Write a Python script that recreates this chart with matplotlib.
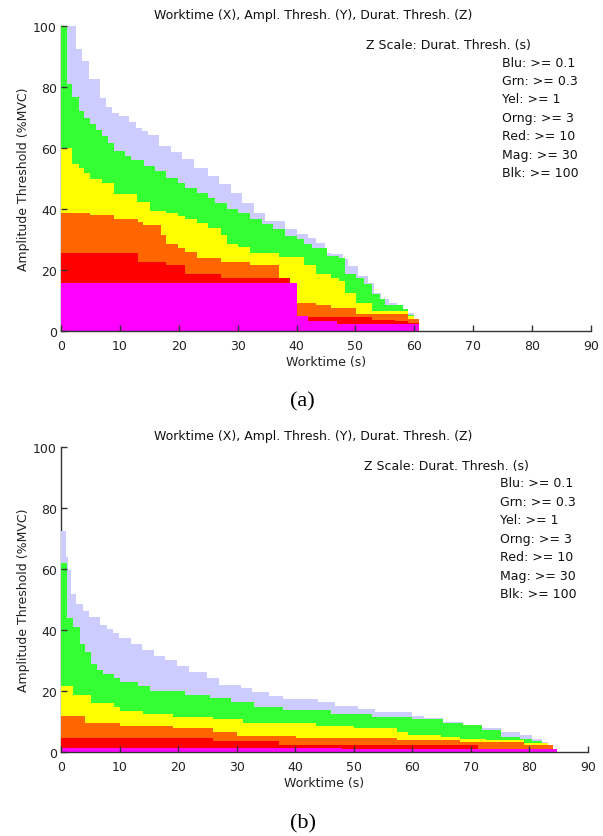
import matplotlib
matplotlib.use("Agg")
import matplotlib.pyplot as plt

# duration-threshold layer colours (>=0.1, 0.3, 1, 3, 10, 30 s)
layer_colors = ["#ccccff", "#33ff33", "#ffff00", "#ff6600", "#ff0000", "#ff00ff"]

legend_lines = ["Blu: >= 0.1", "Grn: >= 0.3", "Yel: >= 1", "Orng: >= 3",
                "Red: >= 10", "Mag: >= 30", "Blk: >= 100"]
title_text = "Worktime (X), Ampl. Thresh. (Y), Durat. Thresh. (Z)"
xticks = [0, 10, 20, 30, 40, 50, 60, 70, 80, 90]
yticks = [0, 20, 40, 60, 80, 100]

# ---- panel (a): step edges (worktime, s) and amplitude thresholds (%MVC)
a_blu_x = [0, 2.6, 3.6, 4.7, 6.7, 7.7, 8.7, 9.8, 11.5, 12.8, 13.8, 14.7, 16.7, 18.7,
           20.6, 22.6, 24.9, 26.9, 28.8, 30.8, 32.8, 34.7, 38.0, 40.0, 41.9, 43.3,
           44.9, 45.9, 47.8, 48.8, 50.5, 52.1, 53.1, 54.4, 55.7, 57.0, 58.0, 59.0,
           60.0, 60.8]
a_blu_y = [100, 92.6, 88.5, 82.5, 76.5, 73.6, 71.6, 70.5, 68.5, 66.7, 65.6, 64.2,
           60.7, 58.7, 56.3, 53.6, 50.8, 48.1, 45.4, 42.1, 38.8, 36.1, 33.3, 31.7,
           30.6, 29.0, 25.7, 25.1, 23.5, 21.3, 18.0, 15.8, 12.6, 10.4, 9.1, 7.7,
           7.1, 6.0, 3.8]
a_grn_x = [0, 1.0, 1.8, 3.0, 3.9, 4.9, 5.9, 6.9, 7.9, 9.0, 10.8, 11.9, 14.1, 16.0,
           17.9, 19.8, 21.1, 23.1, 24.9, 26.2, 28.2, 30.1, 32.1, 34.1, 36.0, 38.0,
           40.0, 41.3, 42.6, 45.2, 47.2, 48.2, 50.1, 51.4, 52.8, 54.1, 55.0, 58.0,
           59.0, 60.0, 60.8]
a_grn_y = [100, 80.9, 76.7, 72.1, 69.9, 67.8, 65.9, 63.9, 61.7, 59.0, 57.4, 56.1,
           54.1, 52.5, 50.3, 48.6, 47.0, 45.4, 43.7, 42.1, 39.9, 38.8, 36.6, 35.0,
           33.3, 31.1, 30.1, 28.4, 27.3, 24.6, 24.0, 18.6, 17.5, 15.3, 12.0, 10.4,
           8.7, 7.1, 5.1, 3.8]
a_yel_x = [0, 1.8, 3.0, 3.9, 4.9, 6.9, 9.0, 12.9, 15.1, 17.9, 19.8, 21.1, 23.1, 24.9,
           27.2, 28.2, 30.1, 32.1, 37.0, 41.3, 43.3, 45.9, 47.2, 48.2, 50.1, 52.8,
           59.0, 60.0, 60.8]
a_yel_y = [59.9, 54.9, 53.6, 51.9, 49.7, 48.4, 44.8, 42.3, 39.3, 38.8, 37.7, 36.6,
           35.5, 33.9, 31.5, 28.6, 27.6, 25.7, 24.4, 21.6, 18.6, 17.5, 16.4, 12.6,
           9.3, 6.6, 4.9, 3.8]
a_org_x = [0, 4.9, 9.0, 13.0, 14.0, 17.0, 17.9, 19.8, 21.1, 23.1, 27.2, 32.1, 37.0,
           38.8, 40.0, 43.3, 45.9, 50.1, 59.0, 60.8]
a_org_y = [38.6, 37.9, 36.6, 35.7, 34.8, 31.5, 28.6, 27.3, 26.0, 23.8, 22.6, 21.5,
           17.5, 15.6, 9.3, 8.5, 7.7, 5.5, 3.8]
a_red_x = [0, 13.0, 17.9, 21.1, 27.2, 38.8, 40.0, 41.9, 52.8, 56.8, 59.0, 60.8]
a_red_y = [25.7, 22.7, 21.6, 18.6, 17.5, 15.6, 5.0, 4.7, 3.6, 3.3, 2.7]
a_mag_x = [0, 40.0, 41.9, 46.8, 60.8]
a_mag_y = [15.6, 5.0, 3.3, 2.2]

# ---- panel (b)
b_blu_x = [0, 0.8, 1.2, 1.7, 2.6, 3.8, 4.8, 6.7, 7.8, 8.9, 9.9, 11.9, 13.8, 15.8,
           17.8, 19.8, 21.8, 25.0, 27.0, 30.7, 32.6, 35.6, 37.9, 43.8, 46.8, 50.8,
           53.7, 60.0, 62.0, 65.3, 68.6, 71.9, 75.1, 78.4, 80.4, 82.1, 83.1]
b_blu_y = [72.4, 63.9, 59.5, 51.8, 48.5, 46.3, 44.3, 41.7, 40.2, 39.1, 37.3, 35.3,
           33.3, 31.4, 30.3, 28.1, 26.2, 24.3, 22.1, 21.0, 19.8, 18.2, 17.4, 16.3,
           15.2, 14.1, 13.0, 11.9, 11.0, 9.9, 8.8, 7.7, 6.6, 5.5, 4.2, 3.3]
b_grn_x = [0, 1.0, 2.0, 3.2, 4.1, 5.1, 6.1, 7.1, 9.0, 10.0, 13.1, 15.2, 21.1, 25.4,
           29.0, 33.0, 37.9, 46.1, 53.1, 60.0, 65.3, 68.6, 71.9, 75.1, 78.4, 80.4,
           82.1]
b_grn_y = [62.0, 43.9, 41.0, 35.5, 32.7, 28.7, 27.0, 25.4, 24.3, 22.8, 21.7, 20.1,
           18.7, 17.6, 16.5, 14.9, 13.8, 12.3, 11.6, 10.7, 9.4, 8.8, 7.2, 5.0, 4.2,
           3.5]
b_yel_x = [0, 2.0, 5.1, 9.0, 10.0, 14.0, 19.1, 26.0, 31.1, 43.5, 50.1, 57.4, 59.3,
           64.9, 68.2, 72.5, 79.1, 83.1]
b_yel_y = [21.7, 18.7, 16.0, 14.9, 13.5, 12.3, 11.6, 10.7, 9.4, 8.6, 7.7, 6.6, 5.5,
           5.0, 4.4, 3.9, 2.8]
b_org_x = [0, 4.1, 10.0, 19.1, 26.0, 30.0, 40.2, 57.4, 68.2, 79.1, 84.0]
b_org_y = [11.8, 9.6, 8.6, 7.7, 6.4, 5.2, 4.6, 3.9, 3.3, 2.4]
b_red_x = [0, 26.0, 37.2, 71.2]
b_red_y = [4.6, 3.5, 2.4]
b_mag_x = [0, 47.9, 84.7]
b_mag_y = [1.4, 0.9]

panel_a = [(a_blu_x, a_blu_y), (a_grn_x, a_grn_y), (a_yel_x, a_yel_y),
           (a_org_x, a_org_y), (a_red_x, a_red_y), (a_mag_x, a_mag_y)]
panel_b = [(b_blu_x, b_blu_y), (b_grn_x, b_grn_y), (b_yel_x, b_yel_y),
           (b_org_x, b_org_y), (b_red_x, b_red_y), (b_mag_x, b_mag_y)]

plt.rcParams["font.family"] = ["DejaVu Sans"]
axis_col = "#333333"

fig = plt.figure(figsize=(6.03, 8.37), dpi=100)
ax_a = fig.add_axes([0.1012, 0.6033, 0.8789, 0.3644])
ax_b = fig.add_axes([0.1012, 0.1004, 0.8740, 0.3644])


def draw_panel(ax, layers):
    for (edges, vals), col in zip(layers, layer_colors):
        ax.stairs(vals, edges, baseline=0, fill=True, color=col, lw=0, zorder=1)
    ax.set_xlim(0, 90)
    ax.set_ylim(0, 100)
    ax.set_xticks(xticks)
    ax.set_yticks(yticks)
    for s in ("top", "right"):
        ax.spines[s].set_visible(False)
    ax.spines["left"].set_zorder(0.5)
    for s in ("left", "bottom"):
        ax.spines[s].set_color(axis_col)
        ax.spines[s].set_linewidth(1.0)
    ax.tick_params(direction="in", length=4, width=1, color=axis_col,
                   labelsize=9, labelcolor="#222222")
    ax.tick_params(axis="x", pad=6)
    ax.tick_params(axis="y", pad=3)
    ax.set_xlabel("Worktime (s)", fontsize=9, labelpad=2, color="#222222")
    ax.set_ylabel("Amplitude Threshold (%MVC)", fontsize=9, labelpad=2,
                  color="#222222")
    ax.text(51.8, 93.9, "Z Scale: Durat. Thresh. (s)", fontsize=9,
            va="center", ha="left", color="#111111")
    for i, line in enumerate(legend_lines):
        ax.text(74.9, 88.2 - 6.05 * i, line, fontsize=9, va="center",
                ha="left", color="#111111")


draw_panel(ax_a, panel_a)
draw_panel(ax_b, panel_b)

fig.text(0.519, 0.981, title_text, fontsize=9, ha="center", va="center",
         color="#111111")
fig.text(0.519, 0.479, title_text, fontsize=9, ha="center", va="center",
         color="#111111")
fig.text(0.502, 0.520, "(a)", fontsize=16, family="Liberation Serif",
         ha="center", va="center")
fig.text(0.503, 0.0155, "(b)", fontsize=16, family="Liberation Serif",
         ha="center", va="center")

fig.savefig("out.png", dpi=100)
